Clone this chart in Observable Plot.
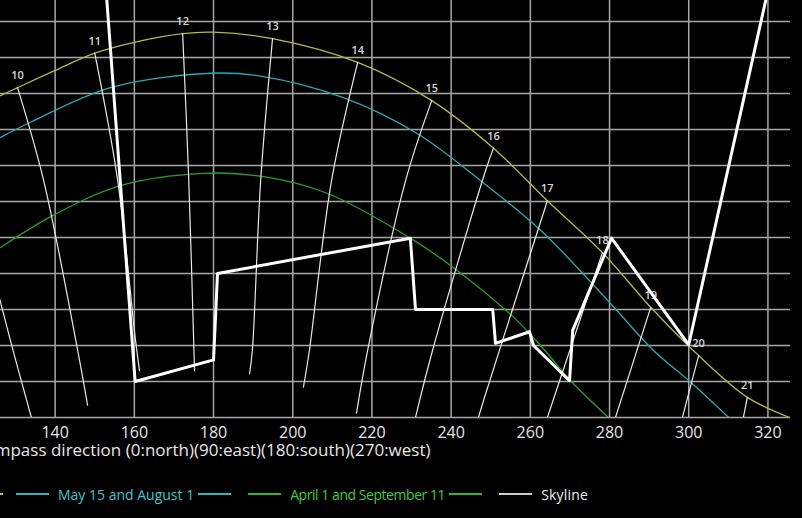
<!DOCTYPE html>
<html><head><meta charset="utf-8">
<script src="https://cdn.jsdelivr.net/npm/d3@7"></script>
<script src="https://cdn.jsdelivr.net/npm/@observablehq/plot@0.6"></script>
<style>
html,body{margin:0;padding:0;background:#000;overflow:hidden;}
#wrap{position:relative;width:802px;height:518px;overflow:hidden;font-family:"Open Sans",sans-serif;}
#chart svg{display:block;}
.legend{position:absolute;top:484px;display:flex;align-items:center;white-space:nowrap;font-size:14px;height:20px;}
.item{display:flex;align-items:center;margin-right:17px;}
.item:last-child{margin-right:0;}
.sw{display:inline-block;width:33px;height:0;border-top:2px solid;}
.lab{margin:0 4px 0 9px;}
</style></head><body><div id="wrap"><div id="chart"></div></div>
<script>
// ---- data ----
const xTicks = [140, 160, 180, 200, 220, 240, 260, 280, 300, 320];
const yTicks = [0, 5, 10, 15, 20, 25, 30, 35, 40, 45, 50, 55];

// June 21 sun path (azimuth, altitude)
const junAz  = [126.2, 130.5, 140, 150, 160, 172.2, 180, 194.9, 216.4, 235.1, 250.7, 264.3, 278.2, 290.4, 302.5, 314.8, 325.5];
const junAlt = [44.7, 45.8, 48.2, 50.6, 52.1, 53.3, 53.5, 52.6, 49.3, 44.0, 37.4, 30.1, 22.9, 15.3, 8.6, 2.8, 0];
// May 15 and August 1
const mayAz  = [126.2, 133.8, 154.0, 179.2, 191.9, 212.8, 231.5, 247.4, 262.6, 280.3, 291.1, 300.5, 310.1];
const mayAlt = [38.9, 41.0, 45.8, 47.8, 47.4, 44.4, 39.4, 32.9, 26.0, 15.8, 9.3, 4.9, 0];
// April 1 and September 11
const aprAz  = [126.2, 139.6, 156.5, 177.5, 191.9, 208.8, 229.7, 240.6, 255.8, 262.6, 270.2, 279.7];
const aprAlt = [23.6, 28.1, 32.2, 33.9, 33.5, 31.1, 24.9, 20.8, 13.9, 10.0, 5.1, 0];
// Skyline
const skyAz  = [152.5, 160.2, 180.0, 181.0, 229.7, 231.0, 250.5, 251.2, 259.8, 260.8, 269.9, 270.7, 280.5, 300.0, 321.1];
const skyAlt = [62, 5.0, 8.0, 20.0, 24.9, 15.0, 15.0, 10.3, 11.9, 10.0, 5.1, 12.1, 24.9, 10.1, 62];

// Hour lines
const hourNames = ["9", "10", "11", "12", "13", "14", "15", "16", "17", "18", "19", "20", "21"];
const hourAz = [
  [114.0, 128.7, 134.0],
  [130.5, 137.1, 145.7, 148.2],
  [150.0, 155.8, 160.3, 161.3],
  [172.2, 173.7, 175.2],
  [194.9, 191.9, 189.8, 189.1],
  [216.4, 209.8, 204.2, 202.7],
  [235.1, 228.5, 218.9, 216.1],
  [250.7, 248.7, 235.3, 231.0],
  [264.3, 257.0, 248.2, 246.9],
  [278.2, 270.2, 264.3],
  [290.4, 281.5],
  [302.5, 298.4],
  [314.8, 313.8]
];
const hourAlt = [
  [42.0, 10.7, 0],
  [45.8, 32.9, 9.3, 1.7],
  [50.6, 32.9, 10.7, 6.5],
  [53.3, 33.6, 6.5],
  [52.6, 32.9, 9.3, 6.1],
  [49.3, 32.9, 9.3, 4.2],
  [44.0, 32.9, 9.3, 0.6],
  [37.4, 34.3, 9.3, 0],
  [30.1, 17.6, 2.4, 0],
  [22.9, 9.7, 0],
  [15.3, 0],
  [8.6, 0],
  [2.8, 0]
];

const seriesNames = ["June 21", "May 15 and August 1", "April 1 and September 11", "Skyline"];
const seriesColors = ["#b8b843", "#2aaab2", "#2a9e2a", "#ffffff"];
const legendLineColors = ["#c8c048", "#30b4bc", "#2fb82f", "#cccccc"];
const legendTextColors = ["#d8d050", "#3cc6cc", "#3ccc3c", "#eeeeee"];
const legendSpacing = ["0px", "0px", "-0.45px", "0.2px"];

// ---- build tables ----
const toRows = (az, alt) => az.map((a, i) => ({az: a, alt: alt[i]}));
const jun = toRows(junAz, junAlt);
const may = toRows(mayAz, mayAlt);
const apr = toRows(aprAz, aprAlt);
const sky = toRows(skyAz, skyAlt);
const hourRows = hourNames.flatMap((h, k) => hourAz[k].map((a, i) => ({hour: h, az: a, alt: hourAlt[k][i]})));
const xDomain = [126.2, 325.7];
const hourStarts = hourNames
  .map((h, k) => ({hour: h, az: hourAz[k][0], alt: hourAlt[k][0]}))
  .filter(d => d.az >= xDomain[0]);

const plot = Plot.plot({
  width: 802,
  height: 470,
  marginLeft: 0,
  marginRight: 12,
  marginTop: 0,
  marginBottom: 53,
  x: {domain: xDomain},
  y: {domain: [0, 57.9]},
  style: {background: "#000", color: "#e0e0e0", fontFamily: "'Open Sans', sans-serif", overflow: "visible"},
  marks: [
    Plot.gridX({ticks: xTicks, stroke: "#a6a6a6", strokeOpacity: 1, strokeWidth: 1.5}),
    Plot.gridY({ticks: yTicks, stroke: "#a6a6a6", strokeOpacity: 1, strokeWidth: 1.5}),
    Plot.axisX({ticks: xTicks, tickSize: 0, tickPadding: 9, fontSize: 16, label: null, fill: "#e6e6e6"}),
    Plot.axisY({ticks: [], label: null, tickSize: 0}),
    Plot.line(jun, {x: "az", y: "alt", stroke: seriesColors[0], strokeWidth: 1.3, curve: "catmull-rom", clip: true}),
    Plot.line(may, {x: "az", y: "alt", stroke: seriesColors[1], strokeWidth: 1.3, curve: "catmull-rom", clip: true}),
    Plot.line(apr, {x: "az", y: "alt", stroke: seriesColors[2], strokeWidth: 1.3, curve: "catmull-rom", clip: true}),
    Plot.line(hourRows, {x: "az", y: "alt", z: "hour", stroke: "#e8e8e8", strokeWidth: 1.2, curve: "catmull-rom", clip: true}),
    Plot.text(hourStarts, {x: "az", y: "alt", text: "hour", dy: -12, fill: "#d6d6d6", fontSize: 11, fontWeight: 600}),
    Plot.line(sky, {x: "az", y: "alt", stroke: seriesColors[3], strokeWidth: 3, clip: true}),
    Plot.text(["Compass direction (0:north)(90:east)(180:south)(270:west)"], {frameAnchor: "bottom-left", textAnchor: "end", dx: 430, dy: 38, fontSize: 17, fill: "#e6e6e6", letterSpacing: "0.55px"})
  ]
});
document.getElementById("chart").appendChild(plot);

// ---- legend ----
const wrap = document.getElementById("wrap");
function makeItem(i, trailing) {
  const it = document.createElement("div");
  it.className = "item";
  const s1 = document.createElement("span");
  s1.className = "sw"; s1.style.borderColor = legendLineColors[i];
  const t = document.createElement("span");
  t.className = "lab"; t.textContent = seriesNames[i]; t.style.color = legendTextColors[i];
  t.style.letterSpacing = legendSpacing[i];
  it.appendChild(s1); it.appendChild(t);
  if (trailing) {
    const s2 = document.createElement("span");
    s2.className = "sw"; s2.style.borderColor = legendLineColors[i];
    it.appendChild(s2);
  }
  return it;
}
const first = document.createElement("div");
first.className = "legend";
first.style.right = "799px";
first.appendChild(makeItem(0, true));
wrap.appendChild(first);

const leg = document.createElement("div");
leg.className = "legend";
leg.style.left = "16px";
leg.appendChild(makeItem(1, true));
leg.appendChild(makeItem(2, true));
leg.appendChild(makeItem(3, false));
wrap.appendChild(leg);
</script></body></html>
